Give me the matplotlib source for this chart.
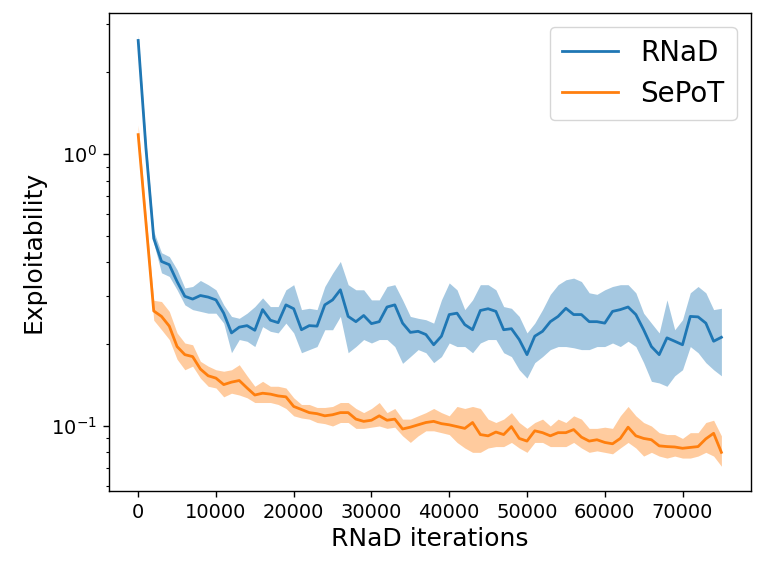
import numpy as np
import matplotlib
matplotlib.use("Agg")
import matplotlib.pyplot as plt

# iterations (one sample every 1000 RNaD steps)
iters = np.arange(0, 75001, 1000)

rnad_mean = [2.62, 1.05, 0.49, 0.403, 0.392, 0.340, 0.300, 0.293, 0.302, 0.298,
             0.291, 0.260, 0.220, 0.231, 0.234, 0.225, 0.268, 0.245, 0.240, 0.279,
             0.270, 0.226, 0.234, 0.233, 0.279, 0.291, 0.317, 0.253, 0.242, 0.255,
             0.238, 0.242, 0.274, 0.279, 0.239, 0.221, 0.223, 0.217, 0.199, 0.214,
             0.257, 0.260, 0.236, 0.226, 0.266, 0.270, 0.264, 0.226, 0.228, 0.208,
             0.183, 0.214, 0.223, 0.242, 0.253, 0.271, 0.257, 0.257, 0.242, 0.242,
             0.239, 0.264, 0.268, 0.274, 0.257, 0.226, 0.196, 0.183, 0.211, 0.205,
             0.199, 0.253, 0.252, 0.239, 0.205, 0.212]
rnad_hi = [2.75, 1.12, 0.52, 0.434, 0.420, 0.376, 0.322, 0.326, 0.343, 0.331,
           0.317, 0.279, 0.253, 0.249, 0.260, 0.275, 0.296, 0.275, 0.275, 0.317,
           0.331, 0.268, 0.271, 0.268, 0.326, 0.365, 0.403, 0.331, 0.317, 0.317,
           0.291, 0.291, 0.326, 0.331, 0.291, 0.253, 0.249, 0.246, 0.239, 0.291,
           0.336, 0.317, 0.268, 0.291, 0.331, 0.331, 0.317, 0.275, 0.271, 0.253,
           0.220, 0.239, 0.268, 0.305, 0.331, 0.345, 0.350, 0.340, 0.309, 0.305,
           0.317, 0.326, 0.331, 0.331, 0.309, 0.260, 0.239, 0.220, 0.291, 0.226,
           0.246, 0.309, 0.326, 0.309, 0.268, 0.271]
rnad_lo = [2.50, 0.98, 0.47, 0.366, 0.355, 0.317, 0.279, 0.268, 0.264, 0.260,
           0.260, 0.239, 0.186, 0.208, 0.205, 0.196, 0.232, 0.223, 0.220, 0.239,
           0.220, 0.186, 0.191, 0.196, 0.226, 0.226, 0.253, 0.186, 0.196, 0.208,
           0.202, 0.208, 0.208, 0.196, 0.170, 0.180, 0.191, 0.186, 0.171, 0.180,
           0.202, 0.196, 0.196, 0.186, 0.202, 0.208, 0.208, 0.186, 0.180, 0.161,
           0.150, 0.171, 0.180, 0.191, 0.196, 0.196, 0.194, 0.191, 0.191, 0.196,
           0.196, 0.202, 0.196, 0.205, 0.196, 0.171, 0.146, 0.144, 0.140, 0.153,
           0.161, 0.196, 0.186, 0.171, 0.161, 0.153]

sepot_mean = [1.18, 0.56, 0.265, 0.253, 0.233, 0.196, 0.183, 0.180, 0.162, 0.153,
              0.150, 0.142, 0.145, 0.147, 0.138, 0.130, 0.132, 0.131, 0.129, 0.128,
              0.118, 0.115, 0.112, 0.111, 0.109, 0.110, 0.112, 0.112, 0.106, 0.104,
              0.105, 0.109, 0.105, 0.106, 0.0975, 0.099, 0.101, 0.103, 0.104, 0.102,
              0.101, 0.0995, 0.098, 0.103, 0.093, 0.092, 0.095, 0.093, 0.0995, 0.090,
              0.088, 0.096, 0.0945, 0.092, 0.0945, 0.0945, 0.097, 0.091, 0.088, 0.089,
              0.087, 0.086, 0.090, 0.099, 0.092, 0.090, 0.089, 0.0845, 0.084, 0.0837,
              0.0828, 0.0834, 0.084, 0.0897, 0.094, 0.080]
sepot_hi = [1.28, 0.60, 0.290, 0.287, 0.264, 0.220, 0.202, 0.199, 0.173, 0.166,
            0.161, 0.159, 0.161, 0.168, 0.153, 0.140, 0.146, 0.140, 0.140, 0.138,
            0.127, 0.120, 0.120, 0.117, 0.117, 0.118, 0.122, 0.122, 0.116, 0.112,
            0.116, 0.122, 0.112, 0.116, 0.106, 0.106, 0.109, 0.112, 0.116, 0.112,
            0.109, 0.118, 0.116, 0.118, 0.116, 0.106, 0.103, 0.106, 0.112, 0.103,
            0.098, 0.103, 0.106, 0.100, 0.106, 0.103, 0.109, 0.106, 0.098, 0.098,
            0.099, 0.098, 0.109, 0.118, 0.109, 0.103, 0.100, 0.0945, 0.093, 0.093,
            0.090, 0.0945, 0.0945, 0.103, 0.105, 0.092]
sepot_lo = [1.10, 0.52, 0.245, 0.226, 0.208, 0.176, 0.161, 0.166, 0.150, 0.140,
            0.138, 0.128, 0.132, 0.130, 0.127, 0.122, 0.122, 0.122, 0.120, 0.116,
            0.109, 0.107, 0.106, 0.103, 0.102, 0.100, 0.103, 0.103, 0.098, 0.098,
            0.099, 0.100, 0.098, 0.099, 0.092, 0.087, 0.092, 0.096, 0.096, 0.0945,
            0.093, 0.087, 0.083, 0.080, 0.080, 0.083, 0.084, 0.084, 0.087, 0.083,
            0.080, 0.087, 0.087, 0.084, 0.084, 0.084, 0.087, 0.083, 0.080, 0.081,
            0.080, 0.079, 0.083, 0.087, 0.083, 0.0775, 0.080, 0.0775, 0.0762, 0.0775,
            0.0762, 0.0762, 0.0775, 0.080, 0.0775, 0.0711]

fig = plt.figure(figsize=(7.64, 5.69), dpi=100)
ax = fig.add_axes([0.1427, 0.1376, 0.8397, 0.8401])

ax.plot(iters, rnad_mean, color="tab:blue", lw=2, label="RNaD")
ax.fill_between(iters, rnad_lo, rnad_hi, color="tab:blue", alpha=0.4, lw=0)
ax.plot(iters, sepot_mean, color="tab:orange", lw=2, label="SePoT")
ax.fill_between(iters, sepot_lo, sepot_hi, color="tab:orange", alpha=0.4, lw=0)

ax.set_yscale("log")
ax.set_ylim(0.0578, 3.315)
ax.set_xlim(-3750, 78750)
ax.set_xticks(np.arange(0, 70001, 10000))

ax.set_xlabel("RNaD iterations", fontsize=18)
ax.set_ylabel("Exploitability", fontsize=18)
ax.tick_params(which="major", labelsize=14, length=4.3, width=1.0, pad=4.5)
ax.tick_params(which="minor", length=2.5, width=0.8)
for s in ax.spines.values():
    s.set_linewidth(1.0)

ax.legend(loc="upper right", fontsize=20, handlelength=2.0, handletextpad=0.8,
          borderpad=0.45, labelspacing=0.45)

plt.savefig("out.png", dpi=100)
plt.close()
